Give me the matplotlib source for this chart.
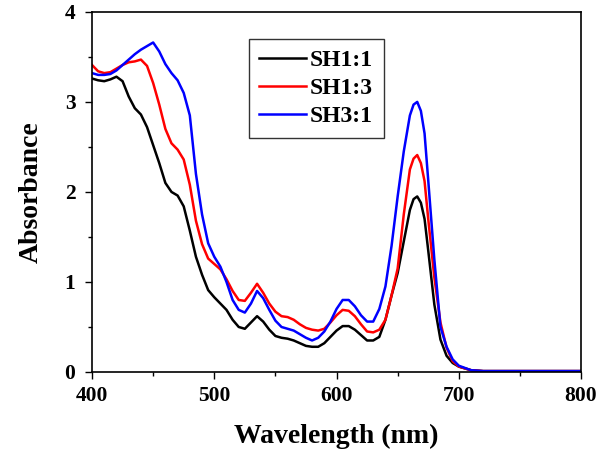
import matplotlib
matplotlib.use("Agg")
import matplotlib.pyplot as plt
from matplotlib.ticker import MultipleLocator

# data
wavelength = [400, 405, 410, 415, 420, 425, 430, 435, 440, 445, 450, 455, 460,
              465, 470, 475, 480, 485, 490, 495, 500, 505, 510, 515, 520, 525,
              530, 535, 540, 545, 550, 555, 560, 565, 570, 575, 580, 585, 590,
              595, 600, 605, 610, 615, 620, 625, 630, 635, 640, 645, 650, 655,
              660, 663, 666, 669, 672, 675, 680, 685, 690, 695, 700, 710, 720,
              740, 760, 780, 800]

sh11 = [3.26, 3.24, 3.23, 3.25, 3.28, 3.23, 3.06, 2.93, 2.86, 2.72, 2.52, 2.32,
        2.10, 2.00, 1.96, 1.84, 1.57, 1.28, 1.08, 0.91, 0.83, 0.76, 0.69, 0.58,
        0.50, 0.48, 0.55, 0.62, 0.56, 0.47, 0.40, 0.38, 0.37, 0.35, 0.32, 0.29,
        0.28, 0.28, 0.32, 0.39, 0.46, 0.51, 0.51, 0.47, 0.41, 0.35, 0.35, 0.39,
        0.58, 0.85, 1.10, 1.45, 1.80, 1.92, 1.95, 1.88, 1.70, 1.35, 0.75, 0.36,
        0.18, 0.10, 0.06, 0.02, 0.01, 0.01, 0.01, 0.01, 0.01]

sh13 = [3.41, 3.34, 3.32, 3.33, 3.37, 3.41, 3.44, 3.45, 3.47, 3.40, 3.21, 2.97,
        2.70, 2.54, 2.47, 2.36, 2.08, 1.68, 1.42, 1.26, 1.20, 1.14, 1.03, 0.90,
        0.80, 0.79, 0.88, 0.98, 0.88, 0.76, 0.67, 0.62, 0.61, 0.58, 0.53, 0.49,
        0.47, 0.46, 0.48, 0.55, 0.63, 0.69, 0.68, 0.62, 0.53, 0.45, 0.44, 0.47,
        0.58, 0.85, 1.15, 1.75, 2.25, 2.37, 2.41, 2.32, 2.12, 1.70, 1.05, 0.55,
        0.27, 0.12, 0.06, 0.02, 0.01, 0.01, 0.01, 0.01, 0.01]

sh31 = [3.32, 3.30, 3.30, 3.31, 3.35, 3.41, 3.47, 3.53, 3.58, 3.62, 3.66, 3.56,
        3.42, 3.32, 3.24, 3.10, 2.85, 2.20, 1.75, 1.43, 1.28, 1.17, 1.00, 0.80,
        0.69, 0.66, 0.76, 0.90, 0.82, 0.69, 0.57, 0.50, 0.48, 0.46, 0.42, 0.38,
        0.35, 0.38, 0.45, 0.56, 0.70, 0.80, 0.80, 0.73, 0.63, 0.56, 0.56, 0.70,
        0.95, 1.40, 1.95, 2.45, 2.85, 2.97, 3.00, 2.90, 2.65, 2.13, 1.25, 0.50,
        0.28, 0.14, 0.07, 0.02, 0.01, 0.01, 0.01, 0.01, 0.01]

series = [("SH1:1", sh11, "black"), ("SH1:3", sh13, "red"), ("SH3:1", sh31, "blue")]

plt.rcParams["font.family"] = ["Liberation Serif", "DejaVu Serif"]
plt.rcParams["font.weight"] = "bold"

fig = plt.figure(figsize=(6.03, 4.57), dpi=100)
ax = fig.add_axes([0.1526, 0.186, 0.811, 0.788])

for label, vals, col in series:
    ax.plot(wavelength, vals, color=col, lw=1.8, label=label)

ax.set_xlim(400, 800)
ax.set_ylim(0, 4)
ax.xaxis.set_major_locator(MultipleLocator(100))
ax.xaxis.set_minor_locator(MultipleLocator(50))
ax.yaxis.set_major_locator(MultipleLocator(1))
ax.yaxis.set_minor_locator(MultipleLocator(0.5))
ax.tick_params(which="major", direction="out", length=5, width=1, labelsize=15.5, pad=5)
ax.tick_params(axis="y", which="major", pad=7)
ax.tick_params(which="minor", direction="out", length=3, width=1)
for lab in ax.get_xticklabels() + ax.get_yticklabels():
    lab.set_fontweight("bold")
for sp in ax.spines.values():
    sp.set_linewidth(1.2)

ax.set_xlabel("Wavelength (nm)", fontsize=20, fontweight="bold", labelpad=13)
ax.set_ylabel("Absorbance", fontsize=20, fontweight="bold", labelpad=15)

leg = ax.legend(loc="upper left", bbox_to_anchor=(0.32, 0.925),
                prop={"weight": "bold", "size": 17}, frameon=True, fancybox=False,
                edgecolor="black", handlelength=2.0, handletextpad=0.15,
                labelspacing=0.28, borderpad=0.45, borderaxespad=0)
leg.get_frame().set_linewidth(1.0)

fig.savefig("out.png", dpi=100)
